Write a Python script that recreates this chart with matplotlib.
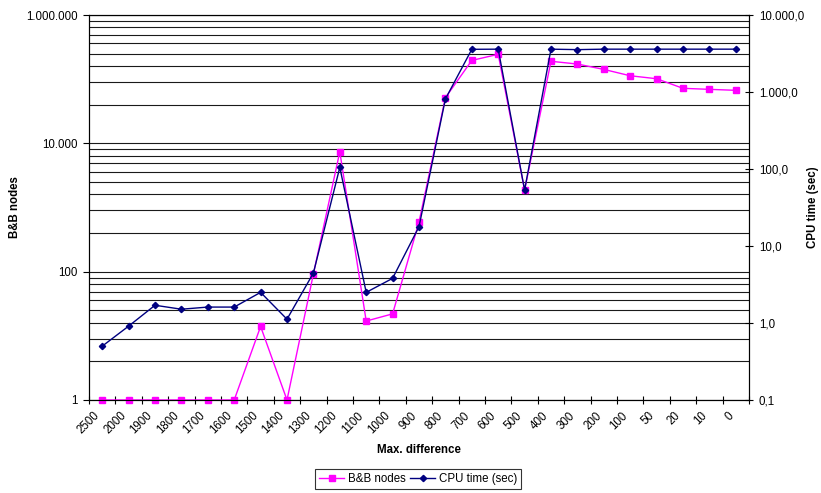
import numpy as np
import matplotlib
matplotlib.use("Agg")
import matplotlib.pyplot as plt
from matplotlib.ticker import FixedLocator, NullFormatter

plt.rcParams['font.family'] = ['Liberation Sans', 'DejaVu Sans']
plt.rcParams['font.size'] = 8.3

# data
categories = ["2500", "2000", "1900", "1800", "1700", "1600", "1500", "1400", "1300",
              "1200", "1100", "1000", "900", "800", "700", "600", "500", "400", "300",
              "200", "100", "50", "20", "10", "0"]
bb_nodes = [1, 1, 1, 1, 1, 1, 14, 1, 92, 7400, 17, 22, 594, 51400, 196000, 244000,
            1874, 190000, 172000, 142000, 113000, 101600, 72000, 69400, 67000]
cpu_time = [0.50, 0.91, 1.70, 1.51, 1.61, 1.61, 2.5, 1.12, 4.46, 105, 2.5, 3.8, 17.8,
            811, 3584, 3600, 53.4, 3600, 3550, 3600, 3600, 3600, 3600, 3600, 3600]

left_ticks = [1, 100, 10000, 1000000]
left_labels = ["1", "100", "10.000", "1.000.000"]
right_ticks = [0.1, 1, 10, 100, 1000, 10000]
right_labels = ["0,1", "1,0", "10,0", "100,0", "1.000,0", "10.000,0"]

# excel-style minor gridlines: k^2 steps inside each 100x major unit
grid_vals = [base * k * k for base in (1, 100, 10000) for k in range(2, 10)]

x = np.arange(len(categories))

fig = plt.figure(figsize=(8.21, 4.93), dpi=100)
ax = fig.add_axes([89/821, 93/493, 660/821, 385/493])
ax2 = ax.twinx()

# left axis
ax.set_yscale('log')
ax.set_ylim(1, 1e6)
ax.yaxis.set_major_locator(FixedLocator(left_ticks))
ax.set_yticklabels(left_labels)
ax.yaxis.set_minor_locator(FixedLocator(grid_vals))
ax.yaxis.set_minor_formatter(NullFormatter())
ax.tick_params(axis='y', which='major', direction='out', length=4, width=0.8, pad=4)
ax.tick_params(axis='y', which='minor', length=0)
ax.grid(True, which='both', axis='y', color='#1a1a1a', linewidth=0.8)
ax.set_axisbelow(True)

# right axis
ax2.set_yscale('log')
ax2.set_ylim(0.1, 1e4)
ax2.yaxis.set_major_locator(FixedLocator(right_ticks))
ax2.set_yticklabels(right_labels)
ax2.yaxis.set_minor_locator(FixedLocator([]))
ax2.tick_params(axis='y', which='major', direction='inout', length=6, width=0.8, pad=4)

# x axis
ax.set_xlim(-0.5, len(categories) - 0.5)
ax.xaxis.set_major_locator(FixedLocator(np.arange(-0.5, len(categories), 1.0)))
ax.xaxis.set_major_formatter(NullFormatter())
ax.xaxis.set_minor_locator(FixedLocator(x))
ax.set_xticklabels(categories, minor=True, rotation=45, ha='right', va='top')
ax.tick_params(axis='x', which='major', direction='inout', length=6, width=0.8)
ax.tick_params(axis='x', which='minor', length=0, pad=7)

for a in (ax, ax2):
    for s in a.spines.values():
        s.set_linewidth(0.8)
        s.set_color('black')

l1, = ax.plot(x, bb_nodes, color='#FF00FF', marker='s', markersize=4.6,
              linewidth=1.0, label='B&B nodes', clip_on=False, zorder=3)
l2, = ax2.plot(x, cpu_time, color='#000080', marker='D', markersize=3.2,
               linewidth=1.0, label='CPU time (sec)', clip_on=False, zorder=3)

fig.text(15/821, 1 - 207/493, 'B&B nodes', rotation=90, ha='center', va='center',
         fontweight='bold')
fig.text(813/821, 1 - 207/493, 'CPU time (sec)', rotation=90, ha='center', va='center',
         fontweight='bold')
fig.text(419/821, 1 - 450/493, 'Max. difference', ha='center', va='center',
         fontweight='bold')

leg = fig.legend(handles=[l1, l2], loc='lower center', bbox_to_anchor=(418/821, 4/493),
                 ncol=2, frameon=True, fancybox=False, edgecolor='black',
                 handlelength=2.2, handletextpad=0.3, columnspacing=0.4,
                 borderpad=0.35, borderaxespad=0)
leg.get_frame().set_linewidth(0.8)

fig.savefig('out.png', dpi=100)
